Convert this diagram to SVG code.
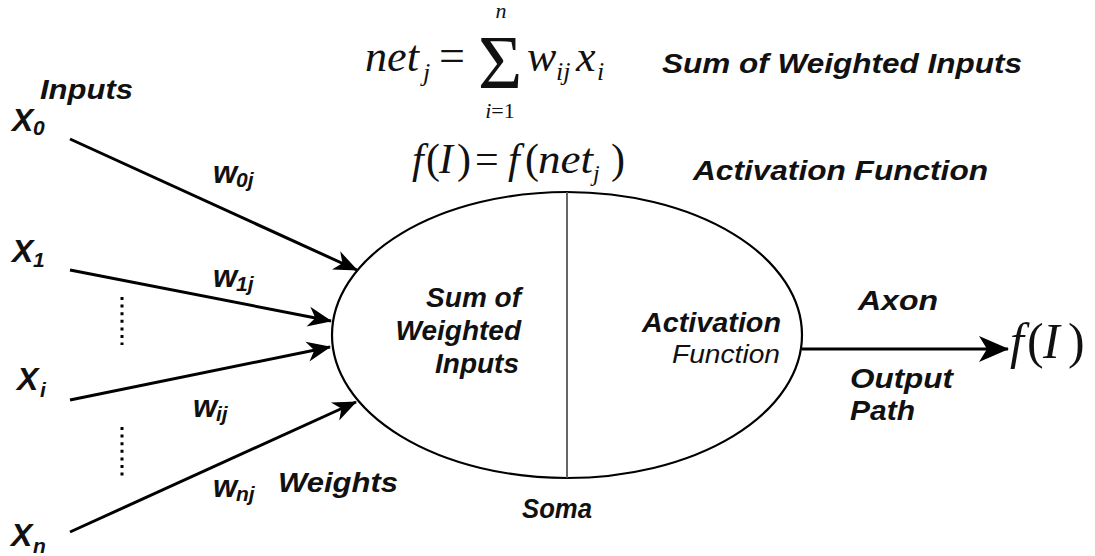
<svg xmlns="http://www.w3.org/2000/svg" width="1095" height="556" viewBox="0 0 1095 556">
<style>
.lb{font-family:"Liberation Sans",Arial,sans-serif;font-weight:bold;font-style:italic;fill:#111;}
.fn{font-family:"Liberation Sans",Arial,sans-serif;font-style:italic;fill:#111;}
.mt{font-family:"Liberation Serif","Times New Roman",serif;fill:#111;}
.it{font-style:italic;}
.wire{stroke:#000;stroke-width:3;fill:none;}
.dots{stroke:#000;stroke-width:3;stroke-dasharray:3 4.6;fill:none;}
</style>
<defs>
<marker id="ah" markerUnits="userSpaceOnUse" markerWidth="24" markerHeight="22" viewBox="0 0 24 22" refX="23" refY="11" orient="auto">
<path d="M0,1 L24,11 L0,21 L7,11 Z" fill="#000"/>
</marker>
<marker id="ahBig" markerUnits="userSpaceOnUse" markerWidth="30" markerHeight="28" viewBox="0 0 30 28" refX="29" refY="14" orient="auto">
<path d="M0,1 L30,14 L0,27 L8,14 Z" fill="#000"/>
</marker>
</defs>
<rect width="1095" height="556" fill="#fff"/>

<g id="formula-sum">
<text class="mt it" x="365" y="71" font-size="44" textLength="54" lengthAdjust="spacingAndGlyphs">net</text>
<text class="mt it" x="423" y="81" font-size="26">j</text>
<text class="mt" x="439" y="71" font-size="46">=</text>
<text class="mt" x="500" y="88" font-size="76" text-anchor="middle">Σ</text>
<text class="mt it" x="501" y="18" font-size="22" text-anchor="middle">n</text>
<text class="mt" x="500" y="118" font-size="22" text-anchor="middle"><tspan class="it">i</tspan>=1</text>
<text class="mt it" x="527" y="71" font-size="44">w</text>
<text class="mt it" x="556" y="80" font-size="26">ij</text>
<text class="mt it" x="576" y="71" font-size="44">x</text>
<text class="mt it" x="597" y="80" font-size="26">i</text>
<text class="lb" x="662" y="73" font-size="28" textLength="360" lengthAdjust="spacingAndGlyphs">Sum of Weighted Inputs</text>
</g>

<g id="formula-act">
<text class="mt" x="412" y="173" font-size="42"><tspan class="it">f</tspan><tspan x="426">(</tspan><tspan class="it" x="439">I</tspan><tspan x="457">)</tspan><tspan x="475">=</tspan><tspan class="it" x="508">f</tspan><tspan x="525">(</tspan></text>
<text class="mt it" x="538" y="173" font-size="42" textLength="55" lengthAdjust="spacingAndGlyphs">net</text>
<text class="mt it" x="593" y="181" font-size="24">j</text>
<text class="mt" x="611" y="173" font-size="42">)</text>
<text class="lb" x="693" y="180" font-size="28" textLength="295" lengthAdjust="spacingAndGlyphs">Activation Function</text>
</g>

<g id="inputs">
<text class="lb" x="40" y="99" font-size="28" textLength="93" lengthAdjust="spacingAndGlyphs">Inputs</text>
</g>
<g id="x0"><text class="lb" x="12" y="131" font-size="32">X</text><text class="lb" x="33" y="135" font-size="21">0</text></g>
<g id="x1"><text class="lb" x="12" y="262" font-size="32">X</text><text class="lb" x="33" y="267" font-size="21">1</text></g>
<g id="xi"><text class="lb" x="17" y="390" font-size="32">X</text><text class="lb" x="40" y="397" font-size="21">i</text></g>
<g id="xn"><text class="lb" x="11" y="546" font-size="32">X</text><text class="lb" x="33" y="553" font-size="21">n</text></g>

<g id="weights">
<text class="lb" x="213" y="183" font-size="31">w</text><text class="lb" x="236" y="187" font-size="21">0j</text>
<text class="lb" x="213" y="287" font-size="31">w</text><text class="lb" x="236" y="291" font-size="21">1j</text>
<text class="lb" x="193" y="417" font-size="31">w</text><text class="lb" x="216" y="421" font-size="21">ij</text>
<text class="lb" x="213" y="497" font-size="31">w</text><text class="lb" x="236" y="501" font-size="21">nj</text>
<text class="lb" x="278" y="492" font-size="28" textLength="120" lengthAdjust="spacingAndGlyphs">Weights</text>
</g>

<g id="soma">
<ellipse cx="567" cy="335" rx="235" ry="143" fill="none" stroke="#000" stroke-width="2.2"/>
<line x1="567" y1="192" x2="567" y2="478" stroke="#555" stroke-width="1.8"/>
<text class="lb" x="521" y="307" font-size="28" text-anchor="end">Sum of</text>
<text class="lb" x="521" y="340" font-size="28" text-anchor="end">Weighted</text>
<text class="lb" x="519" y="373" font-size="28" text-anchor="end">Inputs</text>
<text class="lb" x="781" y="332" font-size="28" text-anchor="end" textLength="139" lengthAdjust="spacingAndGlyphs">Activation</text>
<text class="fn" x="780" y="363" font-size="25" text-anchor="end" textLength="108" lengthAdjust="spacingAndGlyphs">Function</text>
<text class="lb" x="522" y="518" font-size="28" textLength="70" lengthAdjust="spacingAndGlyphs">Soma</text>
</g>

<g id="axon-labels">
<text class="lb" x="858" y="310" font-size="28" textLength="80" lengthAdjust="spacingAndGlyphs">Axon</text>
<text class="lb" x="850" y="388" font-size="28" textLength="103" lengthAdjust="spacingAndGlyphs">Output</text>
<text class="lb" x="850" y="420" font-size="28" textLength="65" lengthAdjust="spacingAndGlyphs">Path</text>
</g>

<g id="output">
<text class="mt" x="1010" y="358" font-size="50"><tspan class="it">f</tspan><tspan x="1027">(</tspan><tspan class="it" x="1043">I</tspan><tspan x="1068">)</tspan></text>
</g>

<g id="connectors">
<line class="wire" x1="70" y1="139" x2="357" y2="270" marker-end="url(#ah)"/>
<line class="wire" x1="70" y1="270" x2="331" y2="321" marker-end="url(#ah)"/>
<line class="wire" x1="70" y1="400" x2="330" y2="347" marker-end="url(#ah)"/>
<line class="wire" x1="70" y1="532" x2="356" y2="402" marker-end="url(#ah)"/>
<line class="wire" x1="802" y1="349" x2="1008" y2="349" marker-end="url(#ahBig)"/>
<line class="dots" x1="122" y1="297" x2="122" y2="345"/>
<line class="dots" x1="122" y1="427" x2="122" y2="479"/>
</g>
</svg>
